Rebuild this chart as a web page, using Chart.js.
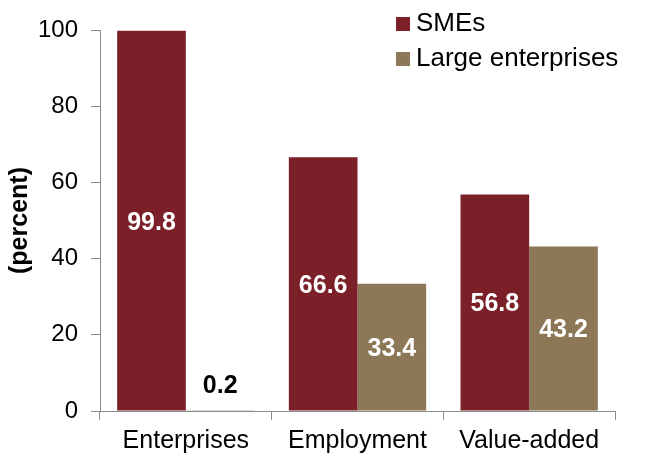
<!DOCTYPE html>
<html>
<head>
<meta charset="utf-8">
<script src="https://cdn.jsdelivr.net/npm/chart.js@4.4.1/dist/chart.umd.min.js"></script>
<style>
  html, body { margin: 0; padding: 0; background: #fff; }
  #wrap { width: 648px; height: 456px; }
</style>
</head>
<body>
<div id="wrap"><canvas id="barChart" width="648" height="456"></canvas></div>
<script>
let categories = ["Enterprises", "Employment", "Value-added"];
let smeValues = [99.8, 66.6, 56.8];
let largeValues = [0.2, 33.4, 43.2];
let yTicks = [0, 20, 40, 60, 80, 100];

let smeColor = "#7B2029";
let largeColor = "#8C7757";
let axisGrey = "#8C8C8C";

// labels drawn in the middle of each bar, small ones go above it
let valueLabels = {
    id: "valueLabels",
    afterDatasetsDraw(chart){
        let ctx = chart.ctx;
        ctx.save();
        ctx.font = "bold 25px 'Liberation Sans', Arial, sans-serif";
        ctx.textAlign = "center";
        ctx.textBaseline = "middle";
        chart.data.datasets.forEach((ds, i) => {
            let meta = chart.getDatasetMeta(i);
            meta.data.forEach((bar, j) => {
                let v = ds.data[j];
                let h = bar.base - bar.y;
                if(h > 40){
                    ctx.fillStyle = "#fff";
                    ctx.fillText(v.toFixed(1), bar.x, (bar.y + bar.base) / 2 + 2);
                }
                else{
                    ctx.fillStyle = "#000";
                    ctx.fillText(v.toFixed(1), bar.x, bar.y - 24);
                }
            });
        });
        ctx.restore();
    }
};

// legend inside the plot, top right
let boxLegend = {
    id: "boxLegend",
    afterDraw(chart){
        let ctx = chart.ctx;
        ctx.save();
        ctx.font = "26px 'Liberation Sans', Arial, sans-serif";
        ctx.textBaseline = "middle";
        ctx.textAlign = "left";
        chart.data.datasets.forEach((ds, i) => {
            let y = 24 + i * 35;
            ctx.fillStyle = ds.backgroundColor;
            ctx.fillRect(396, y - 7, 14, 14);
            ctx.fillStyle = "#000";
            ctx.fillText(ds.label, 416, y);
        });
        ctx.restore();
    }
};

Chart.defaults.font.family = "'Liberation Sans', Arial, sans-serif";
Chart.defaults.color = "#000";

let ctx = document.getElementById("barChart").getContext("2d");

let chart = new Chart(ctx, {
    type: "bar",
    data: {
        labels: categories,
        datasets: [
            {
                label: "SMEs",
                data: smeValues,
                backgroundColor: smeColor,
                categoryPercentage: 0.8,
                barPercentage: 1.0
            },
            {
                label: "Large enterprises",
                data: largeValues,
                backgroundColor: largeColor,
                categoryPercentage: 0.8,
                barPercentage: 1.0
            }
        ]
    },
    options: {
        responsive: false,
        animation: false,
        layout: {
            padding: { top: 30, right: 33, bottom: 0, left: 0 }
        },
        plugins: {
            legend: { display: false },
            tooltip: { enabled: false }
        },
        scales: {
            x: {
                grid: {
                    offset: true,
                    drawOnChartArea: false,
                    drawTicks: true,
                    tickLength: 9,
                    color: (c) => c.index >= categories.length ? "rgba(0,0,0,0)" : axisGrey
                },
                border: { display: true, color: axisGrey, width: 1 },
                ticks: {
                    font: { size: 25 },
                    padding: 6,
                    maxRotation: 0
                },
                afterFit(scale){
                    scale.height = 45;
                }
            },
            y: {
                min: 0,
                max: 100,
                afterBuildTicks(scale){
                    scale.ticks = yTicks.map(v => ({ value: v }));
                },
                grid: {
                    drawOnChartArea: false,
                    drawTicks: true,
                    tickLength: 9,
                    color: axisGrey
                },
                border: { display: true, color: axisGrey, width: 1 },
                ticks: {
                    font: { size: 24 },
                    padding: 13
                },
                title: {
                    display: true,
                    text: "(percent)",
                    font: { size: 25, weight: "bold" },
                    padding: { top: 5, bottom: 0 }
                },
                afterFit(scale){
                    scale.width = 100;
                }
            }
        }
    },
    plugins: [valueLabels, boxLegend]
});
</script>
</body>
</html>
